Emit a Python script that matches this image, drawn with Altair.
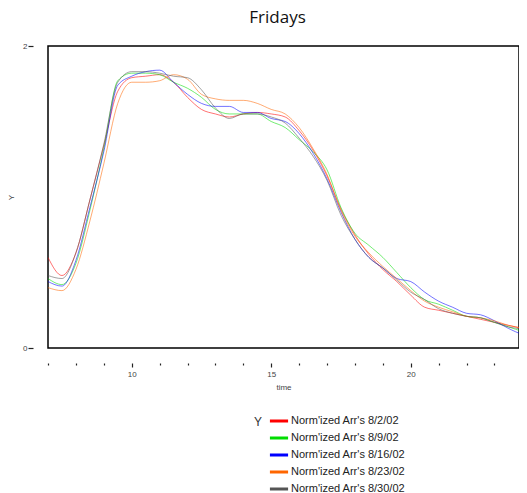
import altair as alt
import pandas as pd

times = [7, 7.5, 8, 8.5, 9, 9.5, 10, 10.5, 11, 11.5, 12, 12.5, 13, 13.5, 14, 14.5,
         15, 15.5, 16, 16.5, 17, 17.5, 18, 18.5, 19, 19.5, 20, 20.5, 21, 21.5, 22,
         22.5, 23, 23.5, 24, 24.2]

series_names = ["Norm'ized Arr's 8/2/02", "Norm'ized Arr's 8/9/02",
                "Norm'ized Arr's 8/16/02", "Norm'ized Arr's 8/23/02",
                "Norm'ized Arr's 8/30/02"]
series_colors = ["#ff0000", "#00dd00", "#0000ff", "#ff6600", "#555555"]

aug02 = [0.60, 0.48, 0.63, 0.98, 1.34, 1.70, 1.79, 1.80, 1.81, 1.76, 1.66, 1.58, 1.55, 1.53,
         1.55, 1.56, 1.55, 1.53, 1.44, 1.31, 1.14, 0.92, 0.75, 0.62, 0.52, 0.44, 0.35, 0.27,
         0.25, 0.23, 0.21, 0.19, 0.17, 0.15, 0.13, 0.12]
aug09 = [0.46, 0.42, 0.56, 0.91, 1.32, 1.77, 1.82, 1.82, 1.81, 1.76, 1.72, 1.66, 1.58, 1.55,
         1.55, 1.55, 1.50, 1.46, 1.38, 1.30, 1.18, 0.93, 0.76, 0.68, 0.60, 0.50, 0.40, 0.32,
         0.29, 0.25, 0.21, 0.20, 0.17, 0.14, 0.11, 0.10]
aug16 = [0.44, 0.41, 0.58, 0.93, 1.30, 1.74, 1.80, 1.83, 1.84, 1.76, 1.68, 1.62, 1.60, 1.60,
         1.56, 1.56, 1.52, 1.50, 1.42, 1.29, 1.12, 0.90, 0.72, 0.60, 0.53, 0.46, 0.44, 0.37,
         0.31, 0.27, 0.23, 0.22, 0.18, 0.13, 0.09, 0.08]
aug23 = [0.40, 0.38, 0.52, 0.84, 1.22, 1.62, 1.76, 1.76, 1.77, 1.81, 1.78, 1.68, 1.65, 1.64,
         1.64, 1.62, 1.58, 1.55, 1.46, 1.32, 1.15, 0.91, 0.74, 0.63, 0.54, 0.46, 0.38, 0.31,
         0.27, 0.24, 0.21, 0.20, 0.18, 0.15, 0.13, 0.12]
aug30 = [0.48, 0.46, 0.63, 0.98, 1.35, 1.76, 1.83, 1.83, 1.82, 1.80, 1.79, 1.71, 1.59, 1.52,
         1.55, 1.55, 1.53, 1.49, 1.39, 1.27, 1.11, 0.88, 0.72, 0.60, 0.53, 0.45, 0.37, 0.32,
         0.26, 0.23, 0.21, 0.20, 0.17, 0.14, 0.12, 0.10]

x_ticks = list(range(7, 25))
y_ticks = [0, 0.2, 0.4, 0.6, 0.8, 1, 1.2, 1.4, 1.6, 1.8, 2]

rows = []
for name, vals in zip(series_names, [aug02, aug09, aug16, aug23, aug30]):
    for t, v in zip(times, vals):
        rows.append({"time": t, "Y": v, "series": name})
df = pd.DataFrame(rows)

lines = alt.Chart(df).mark_line(strokeWidth=1, opacity=0.55, interpolate="monotone", clip=True).encode(
    x=alt.X("time:Q", scale=alt.Scale(domain=[7, 23.88], nice=False, zero=False),
            axis=alt.Axis(values=x_ticks, title="time", domain=False, grid=False, offset=15,
                          format="d",
                          labelExpr="datum.value % 5 === 0 ? datum.label : ''",
                          tickSize={"condition": {"test": "datum.value % 5 === 0", "value": 4}, "value": 2},
                          tickColor="#222", tickWidth=1.2,
                          labelFont="Liberation Sans", labelFontSize=8, labelColor="#444",
                          labelPadding=3, titleFont="Liberation Sans", titleFontSize=8,
                          titleFontWeight="normal", titleColor="#444", titlePadding=5)),
    y=alt.Y("Y:Q", scale=alt.Scale(domain=[0, 2], nice=False),
            axis=alt.Axis(values=y_ticks, title="Y", domain=False, grid=False, offset=15,
                          format="d",
                          labelExpr="datum.value % 1 === 0 ? datum.label : ''",
                          tickSize={"condition": {"test": "datum.value % 1 === 0", "value": 5}, "value": 2},
                          tickColor="#222", tickWidth=1.2,
                          labelFont="Liberation Sans", labelFontSize=8, labelColor="#444",
                          labelPadding=1, titleFont="Liberation Sans", titleFontSize=8,
                          titleFontWeight="normal", titleColor="#444", titlePadding=7)),
    color=alt.Color("series:N", sort=series_names,
                    scale=alt.Scale(domain=series_names, range=series_colors),
                    legend=alt.Legend(title="Y", orient="none", legendX=206, legendY=364,
                                      titleOrient="left", titleAnchor="start",
                                      titleBaseline="line-top", titleLineHeight=26,
                                      titleFont="Liberation Sans",
                                      titleFontSize=12, titleFontWeight="normal",
                                      titleColor="#333", titlePadding=5,
                                      symbolType="stroke", symbolStrokeWidth=3,
                                      symbolSize=330, symbolOpacity=1,
                                      labelFont="Liberation Sans", labelFontSize=11,
                                      labelColor="#222", labelOffset=1, rowPadding=0)),
)

chart = lines.properties(
    width=471, height=302,
    title=alt.TitleParams("Fridays", font="Open Sans", fontSize=17, fontWeight="normal",
                          color="#111", anchor="middle", dx=-6, offset=15),
    autosize=alt.AutoSizeParams(type="none"),
    padding={"left": 40, "top": 38, "right": 0, "bottom": 147},
).configure_view(stroke="#000", strokeWidth=1.5)

chart.save("out.html", embed_options={"renderer": "svg", "actions": False})
